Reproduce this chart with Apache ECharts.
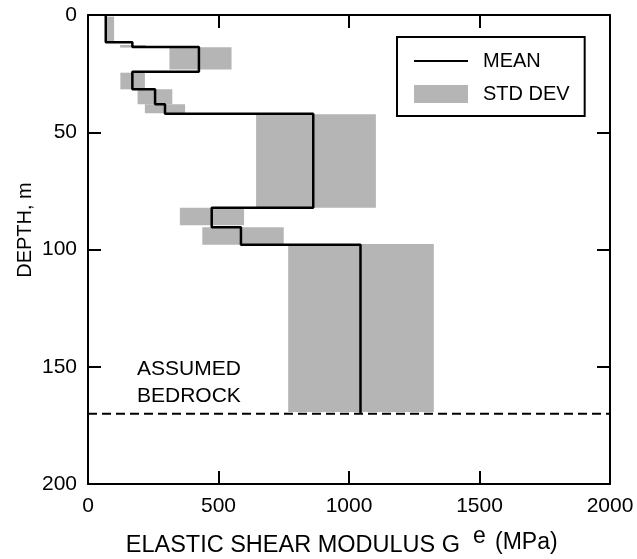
<!DOCTYPE html>
<html>
<head>
<meta charset="utf-8">
<script src="https://cdn.jsdelivr.net/npm/echarts@6/dist/echarts.min.js"></script>
<style>
html,body{margin:0;padding:0;background:#fff;}
#chart{width:637px;height:559px;}
</style>
</head>
<body>
<div id="chart"></div>
<script>
// ---- data ----
const depthBounds   = [0, 11.6, 13.6, 24.2, 31.7, 38.1, 42.1, 82.2, 90.5, 98.0, 170];
const meanModulus   = [68, 170, 425, 170, 257, 295, 863, 474, 586, 1044];
const stdLow        = [70, 123, 312, 124, 190, 218, 644, 352, 438, 767];
const stdHigh       = [100, 221, 550, 218, 323, 372, 1103, 598, 750, 1325];
const stdTop        = [0.7, 12.8, 13.8, 24.6, 31.7, 38.1, 42.3, 82.2, 90.5, 97.7];
const stdBottom     = [11.4, 13.9, 23.2, 31.7, 38.1, 41.9, 82.2, 89.7, 98.0, 169.3];
const bedrockDepth  = 170;
const xRange        = [0, 2000, 500];
const yRange        = [0, 200, 50];
const legendNames   = ['MEAN', 'STD DEV'];
const bedrockLabel  = 'ASSUMED\nBEDROCK';
const xTitleMain    = 'ELASTIC SHEAR MODULUS G';
const xTitleSup     = 'e';
const xTitleUnit    = '(MPa)';
const yTitle        = 'DEPTH, m';

// ---- build series data ----
const meanLine = [];
for (let i = 0; i < meanModulus.length; i++) {
  meanLine.push([meanModulus[i], depthBounds[i]]);
  meanLine.push([meanModulus[i], depthBounds[i + 1]]);
}
const stdRects = stdLow.map((lo, i) => [lo, stdHigh[i], stdTop[i], stdBottom[i]]);
const bedrockLine = [[xRange[0], bedrockDepth], [xRange[1], bedrockDepth]];

const FONT = '"Liberation Sans", Arial, Helvetica, sans-serif';
const GRAY = '#b5b5b5';

function axisCommon() {
  return {
    axisLine: {show: true, onZero: false, lineStyle: {color: '#000', width: 2}},
    axisTick: {show: true, inside: true, length: 13, lineStyle: {color: '#000', width: 2}},
    splitLine: {show: false}
  };
}
const plainNum = v => String(v);

const chart = echarts.init(document.getElementById('chart'), null, {renderer: 'canvas'});
chart.setOption({
  animation: false,
  backgroundColor: '#fff',
  grid: {left: 88, top: 15, right: 27, bottom: 75, containLabel: false},
  xAxis: [
    Object.assign({
      type: 'value', position: 'bottom',
      min: xRange[0], max: xRange[1], interval: xRange[2],
      axisLabel: {color: '#000', fontSize: 21, fontFamily: FONT, margin: 12, formatter: plainNum}
    }, axisCommon()),
    Object.assign({
      type: 'value', position: 'top',
      min: xRange[0], max: xRange[1], interval: xRange[2],
      axisLabel: {show: false}
    }, axisCommon())
  ],
  yAxis: [
    Object.assign({
      type: 'value', position: 'left', inverse: true,
      min: yRange[0], max: yRange[1], interval: yRange[2],
      axisLabel: {color: '#000', fontSize: 21, fontFamily: FONT, margin: 11, formatter: plainNum}
    }, axisCommon()),
    Object.assign({
      type: 'value', position: 'right', inverse: true,
      min: yRange[0], max: yRange[1], interval: yRange[2],
      axisLabel: {show: false}
    }, axisCommon())
  ],
  legend: {
    orient: 'vertical',
    left: 397, top: 37,
    padding: [14, 15, 12, 16],
    itemWidth: 54, itemHeight: 18, itemGap: 13,
    borderColor: '#000', borderWidth: 2,
    backgroundColor: '#fff',
    textStyle: {color: '#000', fontSize: 20, fontFamily: FONT, padding: [0, 0, 0, 10]},
    data: [
      {name: legendNames[0], itemStyle: {opacity: 0}},
      {name: legendNames[1], icon: 'rect'}
    ]
  },
  series: [
    {
      name: legendNames[1],
      type: 'custom',
      xAxisIndex: 0, yAxisIndex: 0,
      itemStyle: {color: GRAY},
      encode: {x: [0, 1], y: [2, 3]},
      renderItem: function (params, api) {
        const p1 = api.coord([api.value(0), api.value(2)]);
        const p2 = api.coord([api.value(1), api.value(3)]);
        return {
          type: 'rect',
          shape: {
            x: Math.min(p1[0], p2[0]), y: Math.min(p1[1], p2[1]),
            width: Math.abs(p2[0] - p1[0]), height: Math.abs(p2[1] - p1[1])
          },
          style: {fill: GRAY}
        };
      },
      data: stdRects,
      z: 1
    },
    {
      name: legendNames[0],
      type: 'line',
      xAxisIndex: 0, yAxisIndex: 0,
      symbol: 'none',
      lineStyle: {color: '#000', width: 2.5},
      itemStyle: {color: '#000'},
      data: meanLine,
      z: 3
    },
    {
      name: 'bedrock',
      type: 'line',
      xAxisIndex: 0, yAxisIndex: 0,
      symbol: 'none',
      lineStyle: {color: '#000', width: 2, type: [9, 5]},
      data: bedrockLine,
      z: 4
    }
  ],
  graphic: [
    {
      type: 'text', left: 137, top: 356, z: 10,
      style: {text: bedrockLabel, fontSize: 21, lineHeight: 27, fontFamily: FONT, fill: '#000'}
    },
    {
      type: 'text', x: 460, y: 546, z: 10,
      style: {text: xTitleMain, fontSize: 23.5, fontFamily: FONT, fill: '#000', align: 'right', verticalAlign: 'middle'}
    },
    {
      type: 'text', x: 473, y: 537, z: 10,
      style: {text: xTitleSup, fontSize: 23, fontFamily: FONT, fill: '#000', align: 'left', verticalAlign: 'middle'}
    },
    {
      type: 'text', x: 495, y: 543, z: 10,
      style: {text: xTitleUnit, fontSize: 23, fontFamily: FONT, fill: '#000', align: 'left', verticalAlign: 'middle'}
    },
    {
      type: 'text', x: 25, y: 230, rotation: Math.PI / 2, z: 10,
      style: {text: yTitle, fontSize: 20, fontFamily: FONT, fill: '#000', align: 'center', verticalAlign: 'middle'}
    }
  ]
});
</script>
</body>
</html>
